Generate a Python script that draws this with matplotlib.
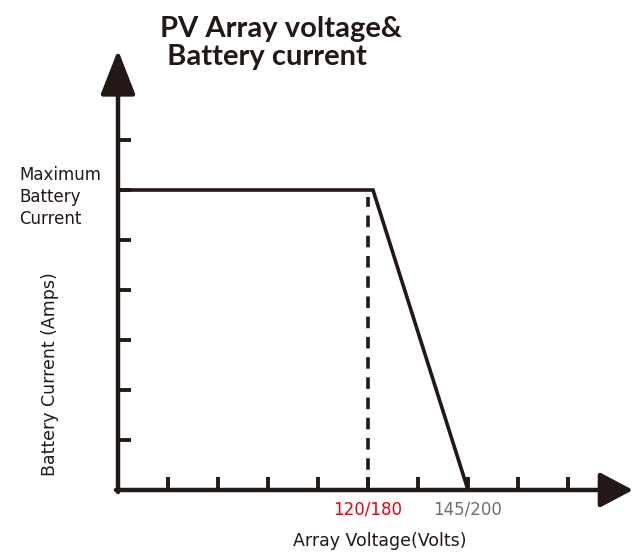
import matplotlib
matplotlib.use("Agg")
import matplotlib.pyplot as plt

# data (in tick units)
voltage = [0, 5.1, 7.0]
current = [6, 6, 0]
x_ticks = [1, 2, 3, 4, 5, 6, 7, 8, 9]
y_ticks = [1, 2, 3, 4, 5, 6, 7]
dash_x = 5
label_120 = "120/180"
label_145 = "145/200"

fig = plt.figure(figsize=(6.32, 5.53), dpi=100)
ax = fig.add_axes([0, 0, 1, 1])
ax.set_xlim(-2.36, 10.28)
ax.set_ylim(-1.26, 9.8)
ax.axis("off")

col = "#231815"
# axes with arrows
ax.annotate("", xy=(0, 8.8), xytext=(0, -0.04), annotation_clip=False,
            arrowprops=dict(arrowstyle="-|>,head_length=1.15,head_width=0.45",
                            lw=3.2, color=col, mutation_scale=24, shrinkA=0, shrinkB=0))
ax.annotate("", xy=(10.3, 0), xytext=(-0.04, 0), annotation_clip=False,
            arrowprops=dict(arrowstyle="-|>,head_length=0.85,head_width=0.45",
                            lw=3.2, color=col, mutation_scale=24, shrinkA=0, shrinkB=0))

# ticks
for t in y_ticks:
    ax.plot([0, 0.26], [t, t], color=col, lw=2.8, solid_capstyle="butt")
for t in x_ticks:
    ax.plot([t, t], [0, 0.26], color=col, lw=2.8, solid_capstyle="butt")

# main curve
ax.plot(voltage, current, color=col, lw=2.6, solid_joinstyle="miter")
# dashed
ax.plot([dash_x, dash_x], [0, 5.86], color=col, lw=2.6, linestyle=(0, (3.2, 2.4)))

fam = ["DejaVu Sans"]
ax.text(dash_x, -0.4, label_120, color="#e60012", ha="center", va="center",
        fontsize=12, family=fam)
ax.text(7.0, -0.4, label_145, color="#6e6e6e", ha="center", va="center",
        fontsize=12, family=fam)
ax.text(5.24, -1.02, "Array Voltage(Volts)", color=col, ha="center", va="center",
        fontsize=12.5, family=fam)
ax.text(-1.36, 2.32, "Battery Current (Amps)", color=col, ha="center", va="center",
        rotation=90, fontsize=12.5, family=fam)
ax.text(-1.98, 5.86, "Maximum\nBattery\nCurrent", color=col, ha="left", va="center",
        fontsize=12, family=fam, linespacing=1.25)
ax.text(0.84, 8.94, "PV Array voltage&\n Battery current", color=col, ha="left",
        va="center", fontsize=21, fontweight="bold", family=["Lato", "DejaVu Sans"],
        linespacing=1.1)

fig.savefig("out.png", dpi=100)
